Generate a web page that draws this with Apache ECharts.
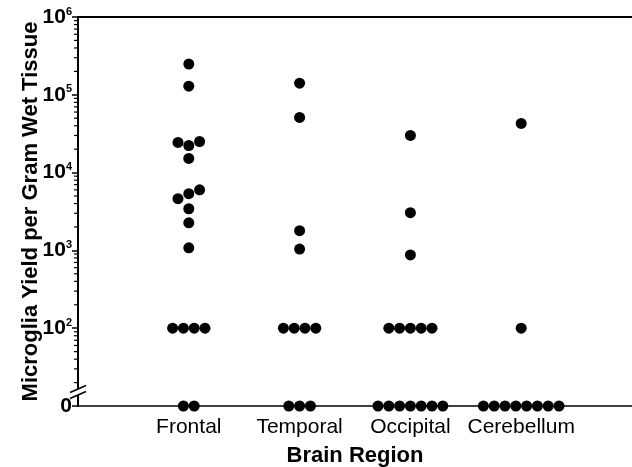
<!DOCTYPE html>
<html>
<head>
<meta charset="utf-8">
<script src="https://cdn.jsdelivr.net/npm/echarts@6/dist/echarts.min.js"></script>
<style>
  html, body { margin: 0; padding: 0; background: #fff; }
  #main { width: 632px; height: 467px; }
</style>
</head>
<body>
<div id="main"></div>
<script>
// values, cells per gram (0 = below detection)
var categories = ['Frontal', 'Temporal', 'Occipital', 'Cerebellum']
var frontal = [0, 0, 100, 100, 100, 100, 1080, 2260, 3430, 4620, 5360, 6000, 15200, 24400, 22300, 25100, 129000, 248000]
var temporal = [0, 0, 0, 100, 100, 100, 100, 1040, 1790, 51200, 141000]
var occipital = [0, 0, 0, 0, 0, 0, 0, 100, 100, 100, 100, 100, 875, 3050, 30000]
var cerebellum = [0, 0, 0, 0, 0, 0, 0, 0, 100, 42900]
var decades = [1, 2, 3, 4, 5, 6] // 1 is where the 0 row sits

var groups = [frontal, temporal, occipital, cerebellum]
var font = 'Liberation Sans, Arial, sans-serif'

// y is plotted as log10(value); zero goes to the bottom slot below the break
function toY(v) {
  return v === 0 ? 1 : Math.log10(v)
}

// minor log ticks 20..90, 200..900, ...
var minorTicks = []
decades.slice(0, -1).forEach(function (n) {
  for (var k = 2; k <= 9; k++) minorTicks.push(Math.log10(k * Math.pow(10, n)))
})

var myChart = echarts.init(document.getElementById('main'))

var option = {
  backgroundColor: '#fff',
  animation: false,
  grid: { left: 78, right: 0, top: 17, bottom: 61, outerBoundsMode: 'none' },
  xAxis: [
    {
      type: 'value',
      min: 0,
      max: 5,
      interval: 1,
      name: 'Brain Region',
      nameLocation: 'middle',
      nameGap: 39,
      nameTextStyle: { fontSize: 22, fontWeight: 'bold', color: '#000', fontFamily: font },
      axisLine: { onZero: false, lineStyle: { color: '#000', width: 1.5 } },
      axisTick: { show: false },
      splitLine: { show: false },
      axisLabel: {
        margin: 11,
        fontSize: 21,
        color: '#000',
        fontFamily: font,
        formatter: function (v) { return categories[v - 1] || '' }
      }
    },
    {
      type: 'value',
      position: 'top',
      min: 0,
      max: 5,
      axisLine: { show: true, onZero: false, lineStyle: { color: '#000', width: 2 } },
      axisTick: { show: false },
      axisLabel: { show: false },
      splitLine: { show: false }
    }
  ],
  yAxis: {
    type: 'value',
    min: 1,
    max: 6,
    interval: 1,
    name: 'Microglia Yield per Gram Wet Tissue',
    nameLocation: 'middle',
    nameGap: 36,
    nameMoveOverlap: false,
    nameTextStyle: { fontSize: 22, fontWeight: 'bold', color: '#000', fontFamily: font },
    axisLine: { show: true, onZero: false, lineStyle: { color: '#000', width: 2 } },
    axisTick: { show: true, length: 6, lineStyle: { color: '#000', width: 1.5 } },
    splitLine: { show: false },
    axisLabel: {
      margin: 6,
      color: '#000',
      formatter: function (v) {
        if (v === 1) return '{b|0}'
        return '{b|10}{s|' + v + '}'
      },
      rich: {
        b: { fontSize: 21, fontWeight: 'bold', color: '#000', fontFamily: font, lineHeight: 22 },
        s: { fontSize: 11, fontWeight: 'bold', color: '#000', fontFamily: font, verticalAlign: 'top', lineHeight: 22 }
      }
    }
  },
  series: []
}

myChart.setOption(option)

// beeswarm: dots within one dot height are laid side by side, in data order
var dot = 11
var step = 10.8
var dotData = []
groups.forEach(function (vals, ci) {
  var items = vals.map(function (v, i) {
    return { v: v, i: i, py: myChart.convertToPixel({ gridIndex: 0 }, [ci + 1, toY(v)])[1] }
  })
  items.sort(function (a, b) { return a.py - b.py || a.i - b.i })
  var rows = []
  items.forEach(function (it) {
    var row = rows[rows.length - 1]
    if (row && Math.abs(it.py - row[0].py) < dot) row.push(it)
    else rows.push([it])
  })
  rows.forEach(function (row) {
    row.sort(function (a, b) { return a.i - b.i })
    row.forEach(function (it, k) {
      var px = myChart.convertToPixel({ gridIndex: 0 }, [ci + 1, toY(it.v)])
      px[0] += (k - (row.length - 1) / 2) * step
      var back = myChart.convertFromPixel({ gridIndex: 0 }, px)
      dotData.push([back[0], toY(it.v)])
    })
  })
})

myChart.setOption({
  series: [
    {
      name: 'minor ticks',
      type: 'custom',
      silent: true,
      data: minorTicks.map(function (t) { return [0, t] }),
      renderItem: function (params, api) {
        var p = api.coord([0, api.value(1)])
        return {
          type: 'line',
          shape: { x1: p[0] - 4, y1: p[1], x2: p[0], y2: p[1] },
          style: { stroke: '#000', lineWidth: 1.2 }
        }
      },
      z: 3
    },
    {
      name: 'break',
      type: 'custom',
      silent: true,
      data: [[0, 1.18]],
      renderItem: function (params, api) {
        var p = api.coord([api.value(0), api.value(1)])
        var x = p[0], y = p[1]
        return {
          type: 'group',
          children: [
            { type: 'rect', shape: { x: x - 3, y: y - 3, width: 6, height: 6 }, style: { fill: '#fff' } },
            { type: 'line', shape: { x1: x - 8, y1: y - 3 + 3.5, x2: x + 8, y2: y - 3 - 3.5 }, style: { stroke: '#000', lineWidth: 1.6 } },
            { type: 'line', shape: { x1: x - 8, y1: y + 3 + 3.5, x2: x + 8, y2: y + 3 - 3.5 }, style: { stroke: '#000', lineWidth: 1.6 } }
          ]
        }
      },
      z: 5
    },
    {
      name: 'Microglia',
      type: 'scatter',
      symbol: 'circle',
      symbolSize: dot,
      itemStyle: { color: '#000', opacity: 1 },
      data: dotData,
      clip: false,
      z: 4
    }
  ]
})
</script>
</body>
</html>
